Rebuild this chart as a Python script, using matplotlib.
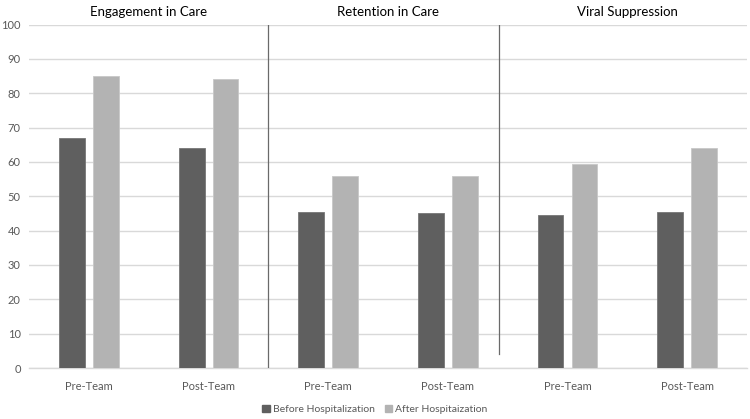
import matplotlib
matplotlib.use("Agg")
import matplotlib.pyplot as plt
from matplotlib.patches import Patch
import numpy as np

plt.rcParams['font.family'] = ['Lato', 'DejaVu Sans']

categories = ["Pre-Team", "Post-Team", "Pre-Team", "Post-Team", "Pre-Team", "Post-Team"]
groups = ["Engagement in Care", "Retention in Care", "Viral Suppression"]
before = [67, 64, 45.4, 45, 44.5, 45.4]
after = [85, 84, 56, 55.8, 59.5, 64]
series_names = ["Before Hospitalization", "After Hospitaization"]
yticks = [0, 10, 20, 30, 40, 50, 60, 70, 80, 90, 100]

dark = "#5f5f5f"
light = "#b3b3b3"
txt = "#595959"

fig = plt.figure(figsize=(7.5, 4.19), dpi=100)
ax = fig.add_axes([0.0387, 0.1217, 0.9573, 0.8198])

x = np.arange(len(categories))
w = 0.217
off = 0.142
ax.bar(x - off, before, width=w, color=dark, edgecolor="#777777", linewidth=0.6, zorder=3)
ax.bar(x + off, after, width=w, color=light, edgecolor="#c8c8c8", linewidth=0.6, zorder=3)

ax.set_xlim(-0.5, 5.5)
ax.set_ylim(0, 100)
ax.set_yticks(yticks)
ax.set_yticklabels([str(t) for t in yticks], color=txt, fontsize=8)
ax.set_xticks(x)
ax.set_xticklabels(categories, color=txt, fontsize=8)
ax.tick_params(axis='both', length=0)
ax.tick_params(axis='x', pad=9)
ax.tick_params(axis='y', pad=6)
ax.yaxis.grid(True, color="#d9d9d9", linewidth=1.0, zorder=0)
for s in ["top", "right", "left"]:
    ax.spines[s].set_visible(False)
ax.spines["bottom"].set_color("#d9d9d9")
ax.spines["bottom"].set_linewidth(1.0)

# separators
ax.plot([1.5, 1.5], [0, 100], color="#6a6a6a", linewidth=0.9, zorder=4)
ax.plot([3.43, 3.43], [4, 100], color="#6a6a6a", linewidth=0.9, zorder=4)

# group titles
for i, g in enumerate(groups):
    ax.text(0.5 + 2 * i, 1.0 + 0.02, g, transform=ax.get_xaxis_transform(),
            ha="center", va="bottom", fontsize=9.5, color="#000000")

handles = [Patch(facecolor=dark, edgecolor=dark), Patch(facecolor=light, edgecolor=light)]
fig.legend(handles, series_names, loc="center", bbox_to_anchor=(0.5, 0.022),
           ncol=2, frameon=False, fontsize=7.5, labelcolor=txt,
           handlelength=0.7, handleheight=0.7, handletextpad=0.3, columnspacing=1.0)

fig.savefig("out.png", dpi=100)
